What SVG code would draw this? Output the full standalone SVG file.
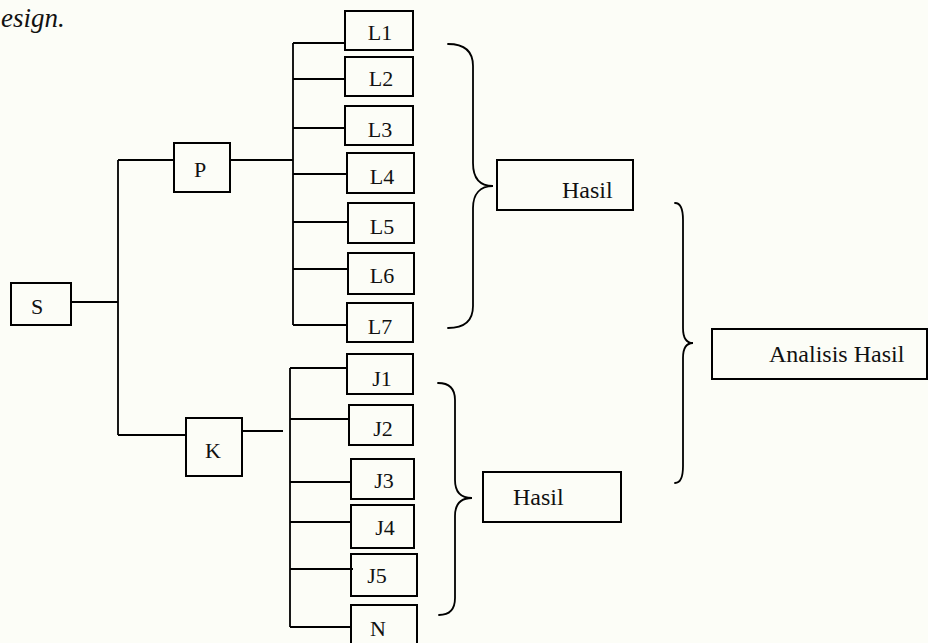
<svg xmlns="http://www.w3.org/2000/svg" width="928" height="643" viewBox="0 0 928 643">
<style>
.box{fill:none;stroke:#000;stroke-width:2}
.ln{fill:none;stroke:#000;stroke-width:1.8}
.br{fill:none;stroke:#000;stroke-width:1.8;stroke-linecap:round}
text{font-family:"Liberation Serif","Times New Roman",serif;font-size:22px;fill:#111}
.c{text-anchor:middle}
.big{font-size:24px}
</style>
<rect x="0" y="0" width="928" height="643" fill="#fcfdf7"/>
<text x="1" y="27" style="font-style:italic;font-size:27px">esign.</text>
<g id="connectors">
<path class="ln" d="M71,302 H118 M118,160 V435 M118,160 H174 M118,435 H186"/>
<path class="ln" d="M230,160 H293 M293,43 V325 M293,43 H345 M293,79 H345 M293,128 H345 M293,174 H347 M293,222 H348 M293,269 H348 M293,325 H347"/>
<path class="ln" d="M242,431 H283 M290,368 V627 M290,368 H347 M290,419 H349 M290,482 H351 M290,522 H351 M290,569 H353 M290,627 H351"/>
<path class="br" d="M448,44 C466,44 473,52 473,66 L473,163 C473,178 480,186 493,186 C480,186 473,194 473,208 L473,306 C473,320 466,328 448,328"/>
<path class="br" d="M438,383 C450,383 455,390 455,400 L455,480 C455,492 461,498 472,498 C461,498 455,504 455,516 L455,598 C455,609 450,615 439,615"/>
<path class="br" d="M675,203 C680,203 683,208 683,220 L683,328 C683,338 687,343 693,343 C687,343 683,348 683,358 L683,466 C683,478 680,483 675,483"/>
</g>
<g id="S"><rect class="box" x="11" y="283" width="60" height="42"/><text class="c" x="37" y="314">S</text></g>
<g id="P"><rect class="box" x="174" y="143" width="56" height="49"/><text class="c" x="200" y="177">P</text></g>
<g id="K"><rect class="box" x="186" y="418" width="56" height="58"/><text class="c" x="213" y="458">K</text></g>
<g id="L1"><rect class="box" x="345" y="11" width="68" height="39"/><text class="c" x="380" y="40">L1</text></g>
<g id="L2"><rect class="box" x="345" y="57" width="68" height="39"/><text class="c" x="381" y="86">L2</text></g>
<g id="L3"><rect class="box" x="345" y="106" width="68" height="39"/><text class="c" x="380" y="137">L3</text></g>
<g id="L4"><rect class="box" x="347" y="153" width="67" height="40"/><text class="c" x="382" y="184">L4</text></g>
<g id="L5"><rect class="box" x="348" y="203" width="66" height="40"/><text class="c" x="382" y="234">L5</text></g>
<g id="L6"><rect class="box" x="348" y="253" width="66" height="41"/><text class="c" x="382" y="283">L6</text></g>
<g id="L7"><rect class="box" x="347" y="303" width="66" height="39"/><text class="c" x="380" y="334">L7</text></g>
<g id="J1"><rect class="box" x="347" y="354" width="66" height="40"/><text class="c" x="382" y="386">J1</text></g>
<g id="J2"><rect class="box" x="349" y="405" width="64" height="40"/><text class="c" x="383" y="436">J2</text></g>
<g id="J3"><rect class="box" x="351" y="459" width="63" height="40"/><text class="c" x="384" y="488">J3</text></g>
<g id="J4"><rect class="box" x="351" y="505" width="63" height="43"/><text class="c" x="385" y="535">J4</text></g>
<g id="J5"><rect class="box" x="351" y="554" width="66" height="42"/><text class="c" x="377" y="583">J5</text></g>
<g id="N"><rect class="box" x="351" y="605" width="66" height="60"/><text class="c" x="378" y="636">N</text></g>
<g id="Hasil1"><rect class="box" x="497" y="160" width="136" height="50"/><text class="big" x="562" y="198">Hasil</text></g>
<g id="Hasil2"><rect class="box" x="483" y="472" width="138" height="50"/><text class="big" x="513" y="505">Hasil</text></g>
<g id="AnalisisHasil"><rect class="box" x="712" y="329" width="215" height="50"/><text class="big" x="769" y="362">Analisis Hasil</text></g>
</svg>
